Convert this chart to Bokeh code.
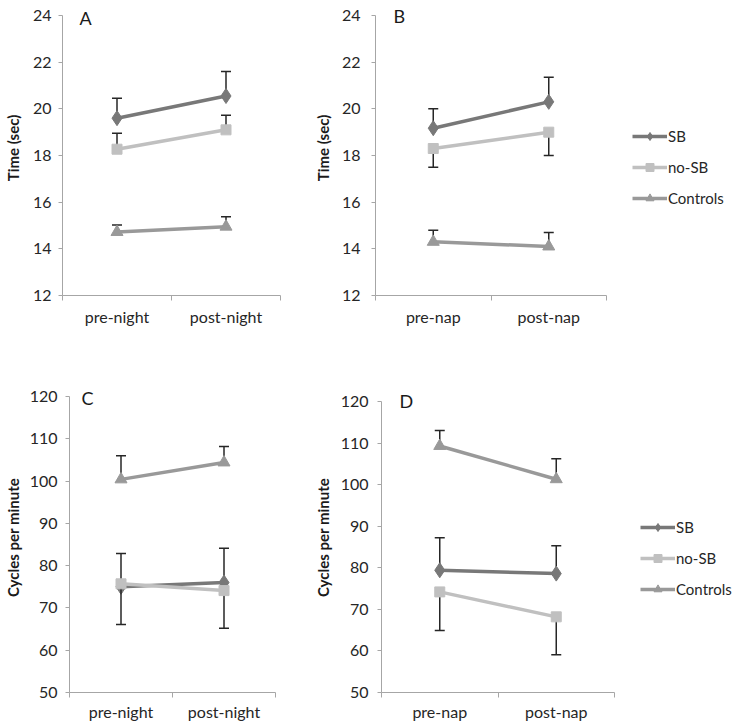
from bokeh.plotting import figure
from bokeh.layouts import row, column
from bokeh.models import (Range1d, FixedTicker, Label, Legend, LegendItem,
                          ColumnDataSource)
from bokeh.embed import file_html
from bokeh.resources import INLINE

# ---------------- data ----------------
night_labels = ["pre-night", "post-night"]
nap_labels = ["pre-nap", "post-nap"]
series_names = ["SB", "no-SB", "Controls"]

# Panel A: Time (sec), night
sb_A = [19.6, 20.55]
sb_A_err = [20.45, 21.6]
nosb_A = [18.27, 19.1]
nosb_A_err = [18.95, 19.73]
ctrl_A = [14.72, 14.95]
ctrl_A_err = [15.02, 15.37]

# Panel B: Time (sec), nap
sb_B = [19.17, 20.3]
sb_B_err = [20.0, 21.35]
nosb_B = [18.3, 19.0]
nosb_B_err = [17.5, 18.0]
ctrl_B = [14.3, 14.1]
ctrl_B_err = [14.8, 14.7]

# Panel C: Cycles per minute, night
sb_C = [75.0, 76.0]
sb_C_err = [82.9, 84.1]
nosb_C = [75.7, 74.1]
nosb_C_err = [66.1, 65.2]
ctrl_C = [100.4, 104.4]
ctrl_C_err = [106.0, 108.2]

# Panel D: Cycles per minute, nap
sb_D = [79.4, 78.6]
sb_D_err = [87.2, 85.3]
nosb_D = [74.2, 68.2]
nosb_D_err = [64.9, 59.1]
ctrl_D = [109.3, 101.3]
ctrl_D_err = [113.0, 106.2]

time_ticks = [12, 14, 16, 18, 20, 22, 24]
cycle_ticks = [50, 60, 70, 80, 90, 100, 110, 120]

# ---------------- style ----------------
FONT = "Lato"
COLORS = {"SB": "#787878", "no-SB": "#c0c0c0", "Controls": "#999999"}
MARKERS = {"SB": ("diamond", 15), "no-SB": ("square", 10), "Controls": ("triangle", 12)}
AXIS_COLOR = "#a6a6a6"
TEXT_COLOR = "#262626"
ERR_COLOR = "#262626"
XPOS = [0.5, 1.5]


def make_panel(width, height, bl, br, bt, top_px, bb, yticks, cats, data,
               ylabel, letter, letter_dx, letter_dy_px, xstandoff,
               ystandoff, ylabel_standoff):
    # top_px: distance from figure top to the top tick level
    ppu = (height - bb - top_px) / (yticks[-1] - yticks[0])
    y_end = yticks[-1] + (top_px - bt) / ppu
    p = figure(width=width, height=height, output_backend="svg",
               toolbar_location=None, tools="",
               x_range=Range1d(0, 2), y_range=Range1d(yticks[0], y_end),
               min_border_left=bl, min_border_right=br,
               min_border_top=bt, min_border_bottom=bb)
    p.outline_line_color = None
    p.xgrid.visible = False
    p.ygrid.visible = False
    p.background_fill_color = "white"
    p.border_fill_color = "white"

    p.xaxis.ticker = FixedTicker(ticks=XPOS, minor_ticks=[0, 1, 2])
    p.xaxis.major_label_overrides = {XPOS[0]: cats[0], XPOS[1]: cats[1]}
    p.xaxis.major_tick_out = 0
    p.xaxis.major_tick_in = 0
    p.xaxis.minor_tick_out = 5
    p.xaxis.minor_tick_in = 0
    p.xaxis.major_label_standoff = xstandoff
    p.xaxis.axis_label_standoff = 0
    p.yaxis.ticker = FixedTicker(ticks=yticks, minor_ticks=[])
    p.yaxis.bounds = (yticks[0], yticks[-1])
    p.yaxis.major_tick_out = 4
    p.yaxis.major_tick_in = 0
    p.yaxis.major_label_standoff = ystandoff
    p.yaxis.axis_label = ylabel
    p.yaxis.axis_label_standoff = ylabel_standoff
    p.yaxis.axis_label_text_font = FONT
    p.yaxis.axis_label_text_font_style = "bold"
    p.yaxis.axis_label_text_font_size = "15px"
    p.yaxis.axis_label_text_color = "#1a1a1a"
    for ax in (p.xaxis, p.yaxis):
        ax.axis_line_color = AXIS_COLOR
        ax.major_tick_line_color = AXIS_COLOR
        ax.minor_tick_line_color = AXIS_COLOR
        ax.major_label_text_font = FONT
        ax.major_label_text_font_size = "16px"
        ax.major_label_text_color = TEXT_COLOR

    for name, vals, errs in data:
        col = COLORS[name]
        mk, sz = MARKERS[name]
        src = ColumnDataSource(dict(x=XPOS, y=vals, e=errs))
        p.segment(x0="x", y0="y", x1="x", y1="e", source=src,
                  line_color=ERR_COLOR, line_width=1.5)
        p.scatter(x="x", y="e", source=src, marker="dash", size=10,
                  line_color=ERR_COLOR, line_width=1.5)
        p.line(x="x", y="y", source=src, line_color=col, line_width=3.5)
        p.scatter(x="x", y="y", source=src, marker=mk, size=sz,
                  fill_color=col, line_color=col)

    p.add_layout(Label(x=0, y=yticks[-1] - letter_dy_px / ppu,
                       x_offset=letter_dx, text=letter,
                       text_font=FONT, text_font_size="18px",
                       text_color="#1a1a1a", text_baseline="alphabetic"))
    return p


def make_legend_fig(width, height, bt, bb, loc, data):
    # legend proxies: the series are plotted outside this figure's view
    p = figure(width=width, height=height, output_backend="svg",
               toolbar_location=None, tools="",
               x_range=Range1d(10, 11), y_range=Range1d(500, 501),
               x_axis_location=None, y_axis_location=None,
               min_border_left=0, min_border_right=0,
               min_border_top=bt, min_border_bottom=bb)
    p.outline_line_color = None
    p.grid.visible = False
    items = []
    for name, vals in zip(series_names, data):
        col = COLORS[name]
        mk, sz = MARKERS[name]
        src = ColumnDataSource(dict(x=XPOS, y=vals))
        lr = p.line(x="x", y="y", source=src, line_color=col, line_width=3.5)
        mr = p.scatter(x="x", y="y", source=src, marker=mk, size=sz,
                       fill_color=col, line_color=col)
        items.append(LegendItem(label=name, renderers=[lr, mr]))
    leg = Legend(items=items, location=loc,
                 glyph_width=35, glyph_height=20, label_height=20,
                 label_standoff=1, spacing=11, padding=0, margin=0,
                 border_line_alpha=0, background_fill_alpha=0,
                 label_text_font=FONT, label_text_font_size="15px",
                 label_text_color=TEXT_COLOR)
    p.add_layout(leg)
    return p


# row 1 (height 330): frames share top (0) and bottom (35) borders
pA = make_panel(310, 330, 56, 30, 0, 15, 35, time_ticks, night_labels,
                [("SB", sb_A, sb_A_err), ("no-SB", nosb_A, nosb_A_err),
                 ("Controls", ctrl_A, ctrl_A_err)],
                "Time (sec)", "A", 17, 2, 6, 7, 8)
pB = make_panel(306, 330, 60, 10, 0, 15, 35, time_ticks, nap_labels,
                [("SB", sb_B, sb_B_err), ("no-SB", nosb_B, nosb_B_err),
                 ("Controls", ctrl_B, ctrl_B_err)],
                "Time (sec)", "B", 18, 0, 6, 11, 7)
legB = make_legend_fig(120, 330, 0, 35, (16, 87), [sb_B, nosb_B, ctrl_B])

# row 2 (height 393): frames share top (52) and bottom (31) borders
pC = make_panel(310, 393, 63, 35, 52, 66, 31, cycle_ticks, night_labels,
                [("SB", sb_C, sb_C_err), ("no-SB", nosb_C, nosb_C_err),
                 ("Controls", ctrl_C, ctrl_C_err)],
                "Cycles per minute", "C", 12, 1, 4, 8, 5)
pD = make_panel(314, 393, 64, 10, 52, 71, 31, cycle_ticks, nap_labels,
                [("SB", sb_D, sb_D_err), ("no-SB", nosb_D, nosb_D_err),
                 ("Controls", ctrl_D, ctrl_D_err)],
                "Cycles per minute", "D", 18, -1, 4, 9, 6)
legD = make_legend_fig(112, 393, 52, 31, (16, 93), [sb_D, nosb_D, ctrl_D])

layout = column(row(pA, pB, legB), row(pC, pD, legD))

with open("out.html", "w") as f:
    f.write(file_html(layout, INLINE))
